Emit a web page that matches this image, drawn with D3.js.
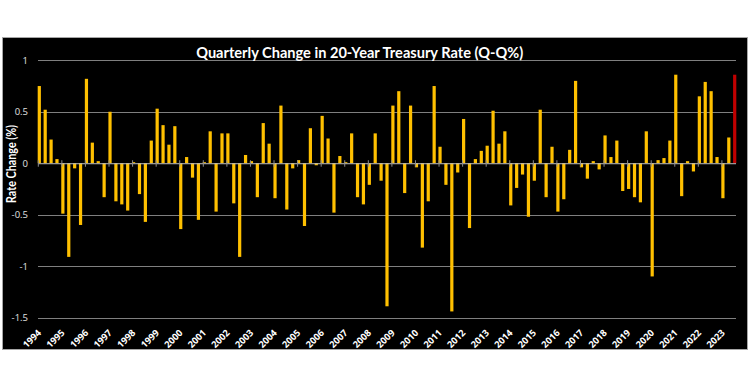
<!DOCTYPE html>
<html>
<head>
<meta charset="utf-8">
<script src="https://cdn.jsdelivr.net/npm/d3@7"></script>
<style>
  html, body { margin: 0; padding: 0; background: #ffffff; }
  svg { display: block; }
</style>
</head>
<body>
<svg id="chart" width="750" height="391"></svg>
<script>
// ---- data ----
const years = ["1994","1995","1996","1997","1998","1999","2000","2001","2002","2003",
  "2004","2005","2006","2007","2008","2009","2010","2011","2012","2013",
  "2014","2015","2016","2017","2018","2019","2020","2021","2022","2023"];
const quarterNames = ["Q1","Q2","Q3","Q4"];
const changes = [
  0.75, 0.52, 0.23, 0.04, -0.49, -0.91, -0.05, -0.60,
  0.82, 0.20, 0.02, -0.33, 0.50, -0.37, -0.40, -0.46,
  0.01, -0.30, -0.57, 0.22, 0.53, 0.37, 0.18, 0.36,
  -0.64, 0.06, -0.14, -0.55, 0.01, 0.31, -0.47, 0.29,
  0.29, -0.39, -0.91, 0.08, 0.02, -0.33, 0.39, 0.19,
  -0.34, 0.56, -0.45, -0.05, 0.03, -0.61, 0.34, -0.02,
  0.46, 0.24, -0.48, 0.07, 0.01, 0.29, -0.33, -0.40,
  -0.21, 0.29, -0.17, -1.39, 0.56, 0.70, -0.29, 0.56,
  -0.04, -0.82, -0.37, 0.75, 0.16, -0.21, -1.44, -0.09,
  0.43, -0.63, 0.04, 0.12, 0.17, 0.51, 0.19, 0.31,
  -0.41, -0.24, -0.11, -0.52, -0.17, 0.52, -0.33, 0.16,
  -0.47, -0.35, 0.13, 0.80, -0.04, -0.15, 0.02, -0.06,
  0.27, 0.06, 0.22, -0.27, -0.25, -0.33, -0.38, 0.31,
  -1.10, 0.03, 0.05, 0.22, 0.86, -0.32, 0.02, -0.08,
  0.65, 0.79, 0.70, 0.06, -0.34, 0.25, 0.86
];
const yTicks = [1, 0.5, 0, -0.5, -1, -1.5];
const yTickLabels = ["1", "0.5", "0", "-0.5", "-1", "-1.5"];
const titleText = "Quarterly Change in 20-Year Treasury Rate (Q-Q%)";
const yTitle = "Rate Change (%)";

// categories built from years x quarters
const categories = [];
years.forEach(y => quarterNames.forEach(q => categories.push(y + " " + q)));
const cats = categories.slice(0, changes.length);
const rows = cats.map((c, i) => ({ cat: c, value: changes[i], last: i === changes.length - 1 }));

// ---- layout ----
const svg = d3.select("#chart");
const W = 750, H = 391;
const plot = { left: 38, right: 736, top: 60.3, bottom: 317.6 };

svg.append("rect").attr("x", 0).attr("y", 0).attr("width", W).attr("height", H).attr("fill", "#ffffff");
svg.append("rect").attr("x", 2.5).attr("y", 37.5).attr("width", 745).attr("height", 312)
  .attr("fill", "#000000").attr("stroke", "#a6a6a6").attr("stroke-width", 1);

const x = d3.scalePoint().domain(cats).range([39.3, 734.7]);
const y = d3.scaleLinear().domain([-1.5, 1]).range([plot.bottom, plot.top]);

// gridlines
svg.append("g").selectAll("line").data(yTicks.filter(v => v !== 0)).join("line")
  .attr("x1", plot.left).attr("x2", plot.right)
  .attr("y1", d => Math.round(y(d)) + 0.5).attr("y2", d => Math.round(y(d)) + 0.5)
  .attr("stroke", "#7f7f7f").attr("stroke-width", 1.2);

// y labels
const yAxis = d3.axisLeft(y).tickValues(yTicks).tickSize(0).tickPadding(0)
  .tickFormat((d, i) => yTickLabels[i]);
const gy = svg.append("g").attr("transform", "translate(28,0)").call(yAxis);
gy.select(".domain").remove();
gy.selectAll("text").attr("fill", "#e0e0e0").attr("font-family", "'Open Sans', sans-serif")
  .attr("font-size", "9.5px");

// bars
svg.append("g").selectAll("rect").data(rows).join("rect")
  .attr("x", d => x(d.cat) - 1.6)
  .attr("width", 3.2)
  .attr("y", d => y(Math.max(0, d.value)))
  .attr("height", d => Math.abs(y(d.value) - y(0)))
  .attr("fill", d => d.last ? "#c00000" : "#ffc000");

// zero axis with ticks
const tickCats = cats.filter((c, i) => i % 4 === 0);
const xAxis = d3.axisBottom(x).tickValues(tickCats).tickSize(3)
  .tickFormat(c => c.slice(0, 4));
const gx = svg.append("g").attr("transform", `translate(0,${y(0)})`).call(xAxis);
gx.select(".domain").attr("d", `M${plot.left},0.5H${plot.right}`).attr("stroke", "#bfbfbf").attr("stroke-width", 1);
gx.selectAll(".tick").attr("transform", c => `translate(${x(c) - 1},0)`);
gx.selectAll(".tick line").attr("y1", -3).attr("y2", 3.5).attr("stroke", "#8c8c8c");
gx.selectAll(".tick text").remove();

// year labels at bottom
svg.append("g").selectAll("text").data(tickCats).join("text")
  .attr("transform", c => `translate(${x(c) + 2.5},${333.5}) rotate(-45)`)
  .attr("text-anchor", "end")
  .attr("fill", "#ffffff")
  .attr("font-family", "'Open Sans', sans-serif")
  .attr("font-weight", 700)
  .attr("font-size", "9.3px")
  .text(c => c.slice(0, 4));

// title
svg.append("text").attr("x", 359.7).attr("y", 58.3).attr("text-anchor", "middle")
  .attr("fill", "#ffffff").attr("font-family", "Lato, sans-serif").attr("font-weight", 700)
  .attr("font-size", "14.5px").attr("textLength", 327).attr("lengthAdjust", "spacingAndGlyphs")
  .text(titleText);

// y title
svg.append("text").attr("transform", "translate(16.3,164) rotate(-90)").attr("text-anchor", "middle")
  .attr("fill", "#ffffff").attr("font-family", "Lato, sans-serif").attr("font-weight", 700)
  .attr("font-size", "12.5px").attr("textLength", 78).attr("lengthAdjust", "spacingAndGlyphs")
  .text(yTitle);
</script>
</body>
</html>
